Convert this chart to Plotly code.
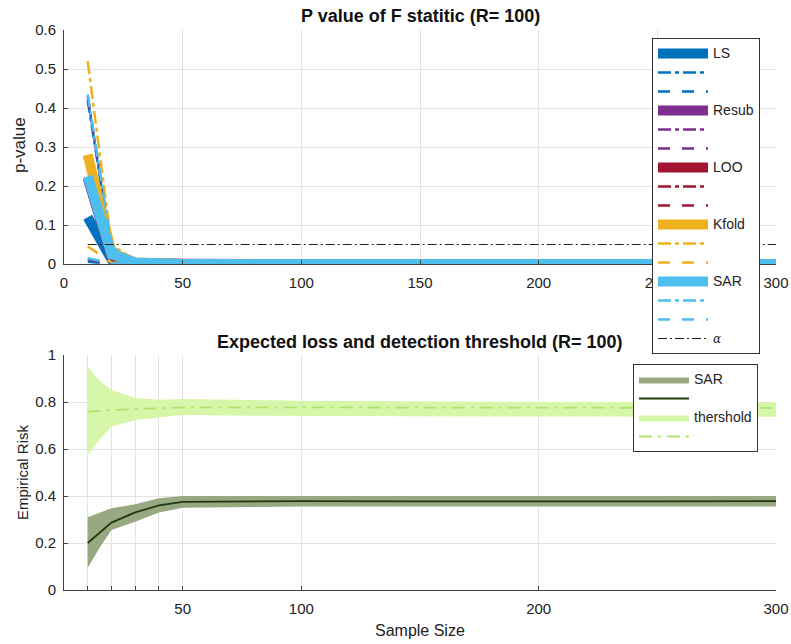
import plotly.graph_objects as go

# ---------------- data ----------------
x_top = [10, 20, 30, 40, 50, 100, 150, 200, 250, 300]

ls_mean = [0.12, 0.012, 0.002, 0.0005, 0.0002, 0, 0, 0, 0, 0]
ls_up = [0.42, 0.035, 0.006, 0.001, 0.0004, 0, 0, 0, 0, 0]
ls_low = [0.006, 0.0006, 0.0001, 0, 0, 0, 0, 0, 0, 0]

resub_mean = [0.22, 0.02, 0.003, 0.0006, 0.0002, 0, 0, 0, 0, 0]
resub_up = [0.43, 0.04, 0.007, 0.0012, 0.0004, 0, 0, 0, 0, 0]
resub_low = [0.012, 0.001, 0.0002, 0, 0, 0, 0, 0, 0, 0]

loo_mean = [None, 0.001, 0.0003, 0.0001, 0, 0, 0, 0, 0, 0]
loo_up = [None, 0.002, 0.0005, 0.0001, 0, 0, 0, 0, 0, 0]
loo_low = [None, 0.0002, 0, 0, 0, 0, 0, 0, 0, 0]

kfold_mean = [0.28, 0.03, 0.004, 0.001, 0.0003, 0, 0, 0, 0, 0]
kfold_up = [0.52, 0.05, 0.008, 0.002, 0.0005, 0, 0, 0, 0, 0]
kfold_low = [0.045, 0.004, 0.0005, 0, 0, 0, 0, 0, 0, 0]

sar_mean = [0.225, 0.025, 0.004, 0.001, 0.0003, 0, 0, 0, 0, 0]
sar_up = [0.435, 0.045, 0.007, 0.0015, 0.0005, 0, 0, 0, 0, 0]
sar_low = [0.015, 0.002, 0.0003, 0, 0, 0, 0, 0, 0, 0]

alpha_x = [10, 300]
alpha_y = [0.05, 0.05]

x_bot = [10, 15, 20, 30, 40, 50, 100, 150, 200, 250, 300]
risk = [0.20, 0.245, 0.287, 0.33, 0.36, 0.375, 0.378, 0.377, 0.376, 0.377, 0.378]
risk_up = [0.31, 0.33, 0.348, 0.365, 0.39, 0.40, 0.40, 0.40, 0.40, 0.40, 0.40]
risk_lo = [0.095, 0.18, 0.255, 0.29, 0.33, 0.35, 0.355, 0.355, 0.355, 0.355, 0.355]
thr = [0.758, 0.762, 0.766, 0.77, 0.774, 0.777, 0.777, 0.776, 0.775, 0.775, 0.775]
thr_up = [0.95, 0.89, 0.851, 0.817, 0.81, 0.813, 0.805, 0.802, 0.80, 0.80, 0.80]
thr_lo = [0.574, 0.64, 0.695, 0.723, 0.735, 0.745, 0.74, 0.738, 0.737, 0.737, 0.737]

top_xticks = [0, 50, 100, 150, 200, 250, 300]
top_yticks = [0, 0.1, 0.2, 0.3, 0.4, 0.5, 0.6]
bot_xticks = [10, 20, 30, 40, 50, 100, 200, 300]
bot_xtext = ["", "", "", "", "50", "100", "200", "300"]
bot_yticks = [0, 0.2, 0.4, 0.6, 0.8, 1]
bot_ytext = ["0", "0.2", "0.4", "0.6", "0.8", "1"]

# ---------------- figure ----------------
FONT = "Liberation Sans, Arial, Helvetica, sans-serif"
fig = go.Figure()


def lg(txt):
    return '<span style="font-size:14px">' + txt + "</span>"


methods = [
    ("LS", "#0072BD", ls_mean, ls_up, ls_low),
    ("Resub", "#7E2F8E", resub_mean, resub_up, resub_low),
    ("LOO", "#A2142F", loo_mean, loo_up, loo_low),
    ("Kfold", "#EDB120", kfold_mean, kfold_up, kfold_low),
    ("SAR", "#4DBEEE", sar_mean, sar_up, sar_low),
]
DASHDOT = "13px,4px,4px,4px"
DASHED = "12px,12px"
for name, col, m, u, lo in methods:
    fig.add_trace(go.Scatter(x=x_top, y=m, mode="lines", name=lg(name),
                             line=dict(color=col, width=10), xaxis="x", yaxis="y",
                             legend="legend"))
    fig.add_trace(go.Scatter(x=x_top, y=u, mode="lines", name="",
                             line=dict(color=col, width=2.5, dash=DASHDOT),
                             xaxis="x", yaxis="y", legend="legend"))
    fig.add_trace(go.Scatter(x=x_top, y=lo, mode="lines", name="",
                             line=dict(color=col, width=2.5, dash=DASHED),
                             xaxis="x", yaxis="y", legend="legend"))

fig.add_trace(go.Scatter(x=alpha_x, y=alpha_y, mode="lines",
                         name='<span style="font-size:12px;font-family:DejaVu Serif"><i>α</i></span>',
                         line=dict(color="#222222", width=1, dash="9px,3px,2px,3px"),
                         xaxis="x", yaxis="y", legend="legend"))

# bottom panel
fig.add_trace(go.Scatter(x=x_bot + x_bot[::-1], y=risk_up + risk_lo[::-1],
                         fill="toself", mode="lines", line=dict(width=0),
                         fillcolor="#98a880", name=lg("SAR"), xaxis="x2", yaxis="y2",
                         legend="legend2"))
fig.add_trace(go.Scatter(x=x_bot, y=risk, mode="lines", name="",
                         line=dict(color="#1e3a0e", width=1.8),
                         xaxis="x2", yaxis="y2", legend="legend2"))
fig.add_trace(go.Scatter(x=x_bot + x_bot[::-1], y=thr_up + thr_lo[::-1],
                         fill="toself", mode="lines", line=dict(width=0),
                         fillcolor="#d6f7aa", name=lg("thershold"), xaxis="x2", yaxis="y2",
                         legend="legend2"))
fig.add_trace(go.Scatter(x=x_bot, y=thr, mode="lines", name="",
                         line=dict(color="#b2e36c", width=1.8, dash="13px,6px,3px,6px"),
                         xaxis="x2", yaxis="y2", legend="legend2"))

W, H = 791, 644
xl, xr = 64 / W, 776 / W
axis_common = dict(showgrid=True, gridcolor="#e3e3e3", gridwidth=1, zeroline=False,
                   showline=True, linecolor="#444444", linewidth=1, ticks="inside",
                   ticklen=4, tickcolor="#444444", automargin=False,
                   tickfont=dict(family=FONT, size=15, color="#222222"))
xaxis_common = dict(axis_common, ticklabelstandoff=5)
yaxis_common = dict(axis_common, ticklabelstandoff=4)

fig.update_layout(
    width=W, height=H,
    margin=dict(l=0, r=0, t=0, b=0, pad=0, autoexpand=False),
    paper_bgcolor="white", plot_bgcolor="white",
    font=dict(family=FONT, size=14, color="#222222"),
    xaxis=dict(domain=[xl, xr], range=[0, 300], tickvals=top_xticks, anchor="y",
               **xaxis_common),
    yaxis=dict(domain=[1 - 264 / H, 1 - 30 / H], range=[0, 0.6], tickvals=top_yticks,
               anchor="x", **yaxis_common),
    xaxis2=dict(domain=[xl, xr], range=[0, 300], tickvals=bot_xticks, ticktext=bot_xtext,
                anchor="y2", **xaxis_common),
    yaxis2=dict(domain=[1 - 590 / H, 1 - 355 / H], range=[0, 1], tickvals=bot_yticks,
                ticktext=bot_ytext, anchor="x2", **yaxis_common),
    legend=dict(x=652 / W, y=1 - 38 / H, xanchor="left", yanchor="top",
                bgcolor="white", bordercolor="#333333", borderwidth=1,
                font=dict(family=FONT, size=12, color="#222222"), itemwidth=50,
                tracegroupgap=0),
    legend2=dict(x=633 / W, y=1 - 364 / H, xanchor="left", yanchor="top",
                 bgcolor="white", bordercolor="#333333", borderwidth=1,
                 font=dict(family=FONT, size=12, color="#222222"), itemwidth=50),
    showlegend=True,
    annotations=[
        dict(text="<b>P value of F statitic (R= 100)</b>", x=(xl + xr) / 2, y=1 - 16 / H,
             xref="paper", yref="paper", showarrow=False, xanchor="center",
             yanchor="middle", font=dict(family=FONT, size=18, color="#111111")),
        dict(text="<b>Expected loss and detection threshold (R= 100)</b>", x=(xl + xr) / 2,
             y=1 - 342 / H, xref="paper", yref="paper", showarrow=False, xanchor="center",
             yanchor="middle", font=dict(family=FONT, size=18, color="#111111")),
        dict(text="p-value", x=20 / W, y=1 - 145 / H, xref="paper", yref="paper",
             showarrow=False, textangle=-90, xanchor="center", yanchor="middle",
             font=dict(family=FONT, size=17, color="#222222")),
        dict(text="Empirical Risk", x=22 / W, y=1 - 472 / H, xref="paper", yref="paper",
             showarrow=False, textangle=-90, xanchor="center", yanchor="middle",
             font=dict(family=FONT, size=15, color="#222222")),
        dict(text="Sample Size", x=(xl + xr) / 2, y=1 - 630 / H, xref="paper",
             yref="paper", showarrow=False, xanchor="center", yanchor="middle",
             font=dict(family=FONT, size=16, color="#222222")),
    ],
)

fig.write_html("out.html")
